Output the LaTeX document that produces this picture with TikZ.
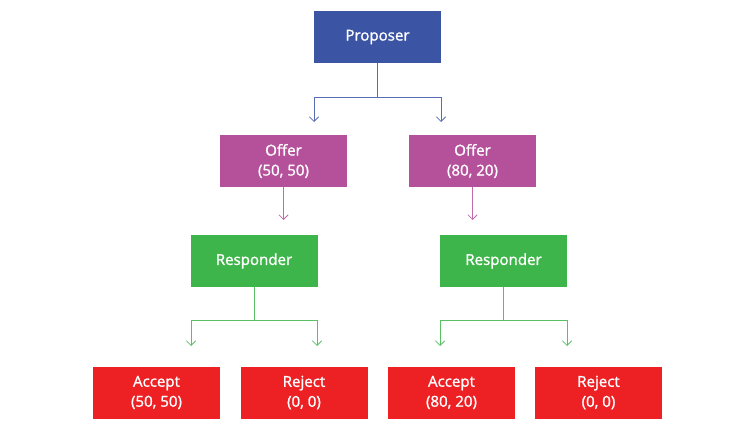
\documentclass[tikz,border=0pt]{standalone}
\usepackage{fontspec}
\setmainfont{Open Sans}
\newfontfamily\boxfont{Open Sans}[FakeBold=1.3]
\usetikzlibrary{arrows.meta}
\definecolor{cblue}{HTML}{3B54A4}
\definecolor{cmag}{HTML}{B5519B}
\definecolor{cgreen}{HTML}{3DB54A}
\definecolor{cred}{HTML}{ED2024}
\tikzset{
  box/.style={draw=none, minimum width=127*0.75pt, minimum height=52*0.75pt, inner sep=0pt,
    text=white, align=center, font=\boxfont\fontsize{11.3pt}{15pt}\selectfont},
  conn/.style={line width=0.65pt, -{Straight Barb[length=3.5pt,width=7pt]}},
}
\begin{document}
\begin{tikzpicture}[x=0.75pt,y=-0.75pt]
\useasboundingbox (0,0) rectangle (754,431);
\node[box, fill=cblue] (prop) at (377.5,37) {Proposer};
\node[box, fill=cmag] (off1) at (283.5,161) {Offer\\(50, 50)};
\node[box, fill=cmag] (off2) at (472.5,161) {Offer\\(80, 20)};
\node[box, fill=cgreen] (resp1) at (254,261) {Responder};
\node[box, fill=cgreen] (resp2) at (503.5,261) {Responder};
\node[box, fill=cred] (acc1) at (156.5,392.5) {Accept\\(50, 50)};
\node[box, fill=cred] (rej1) at (304,392.5) {Reject\\(0, 0)};
\node[box, fill=cred] (acc2) at (451.5,392.5) {Accept\\(80, 20)};
\node[box, fill=cred] (rej2) at (598.5,392.5) {Reject\\(0, 0)};
% branch points and arrow tips
\coordinate (pj) at (377.5,97);
\coordinate (pt1) at (314,122);
\coordinate (pt2) at (441,122);
\coordinate (ot1) at (283.5,220);
\coordinate (ot2) at (472.5,220);
\coordinate (r1j) at (254,320);
\coordinate (r1a) at (191,346);
\coordinate (r1b) at (317,346);
\coordinate (r2j) at (503.5,320);
\coordinate (r2a) at (440,346);
\coordinate (r2b) at (567,346);
\draw[conn, cblue!85] (prop.south) -- (pj) -| (pt1);
\draw[conn, cblue!85] (pj) -| (pt2);
\draw[conn, cmag!85] (off1.south) -- (ot1);
\draw[conn, cmag!85] (off2.south) -- (ot2);
\draw[conn, cgreen!85] (resp1.south) -- (r1j) -| (r1a);
\draw[conn, cgreen!85] (r1j) -| (r1b);
\draw[conn, cgreen!85] (resp2.south) -- (r2j) -| (r2a);
\draw[conn, cgreen!85] (r2j) -| (r2b);
\end{tikzpicture}
\end{document}
